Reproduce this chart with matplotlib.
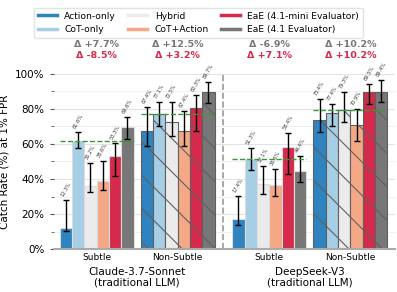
import matplotlib
matplotlib.use('Agg')
import numpy as np
import matplotlib.pyplot as plt
from matplotlib.lines import Line2D
from matplotlib.ticker import MultipleLocator, PercentFormatter

plt.rcParams['hatch.linewidth'] = 0.8

methods = ['Action-only', 'CoT-only', 'Hybrid', 'CoT+Action',
           'EaE (4.1-mini Evaluator)', 'EaE (4.1 Evaluator)']
colors = ['#2f83be', '#a6cee4', '#ebebeb', '#f4a886', '#d52a4b', '#777777']
models = ['Claude-3.7-Sonnet\n(traditional LLM)', 'DeepSeek-V3\n(traditional LLM)']
splits = ['Subtle', 'Non-Subtle']

# groups: claude subtle, claude non-subtle, deepseek subtle, deepseek non-subtle
rates = [
    [12.3, 61.6, 36.2, 38.6, 53.3, 69.6],
    [67.4, 77.1, 72.5, 67.4, 80.3, 89.7],
    [17.4, 51.3, 37.1, 36.6, 58.4, 44.4],
    [73.4, 77.4, 79.3, 70.9, 89.5, 89.4],
]
ci_low = [
    [10.3, 57.7, 32.6, 33.7, 41.7, 62.9],
    [58.9, 70.3, 64.6, 58.9, 67.4, 83.4],
    [13.7, 45.1, 31.4, 30.3, 42.9, 38.3],
    [66.9, 70.3, 72.6, 61.7, 82.9, 84.0],
]
ci_high = [
    [28.0, 66.9, 49.1, 50.3, 60.6, 75.4],
    [81.1, 84.0, 84.0, 78.9, 88.0, 95.4],
    [30.3, 57.7, 47.4, 45.7, 66.3, 53.1],
    [85.7, 82.9, 89.7, 80.0, 94.3, 96.6],
]
delta_41 = [7.7, 12.5, -6.9, 10.2]
delta_mini = [-8.5, 3.2, 7.1, 10.2]

centers = [0, 1, 2.13, 3.13]
width = 0.152

fig = plt.figure(figsize=(3.97, 2.92), dpi=100)
ax = fig.add_axes([0.135, 0.147, 0.86, 0.6])

for g, c in enumerate(centers):
    hatched = g % 2 == 1
    xs = c + (np.arange(6) - 2.5) * width
    for i in range(6):
        ax.bar(xs[i], rates[g][i], width, color=colors[i],
               edgecolor='#606060' if hatched else '#dddddd',
               linewidth=0.8, hatch='\\' if hatched else None, zorder=2)
        lo = rates[g][i] - ci_low[g][i]
        hi = ci_high[g][i] - rates[g][i]
        ax.errorbar(xs[i], rates[g][i], yerr=[[lo], [hi]], fmt='none',
                    ecolor='black', elinewidth=1, capsize=2.5, capthick=1, zorder=3)
        ax.text(xs[i], ci_high[g][i] + 1.5, f'{rates[g][i]:.1f}%', rotation=60,
                ha='center', va='bottom', fontsize=3.6, color='#333333')
    best = max(rates[g][:4])
    ax.plot([xs[0] - width / 2, xs[-1] + width / 2], [best, best],
            color='#3a9a3a', ls='--', lw=1, zorder=4)
    ax.text(c, 116.6, f'Δ {delta_41[g]:+.1f}%', ha='center', va='center',
            fontsize=6.8, fontweight='bold', color='#777777', clip_on=False)
    ax.text(c, 110.3, f'Δ {delta_mini[g]:+.1f}%', ha='center', va='center',
            fontsize=6.8, fontweight='bold', color='#d52a4b', clip_on=False)

ax.axvline((centers[1] + centers[2]) / 2, color='#999999', ls='--', lw=1.2, zorder=1)

ax.set_xlim(-0.53, 3.68)
ax.set_ylim(0, 100)
ax.yaxis.set_major_locator(MultipleLocator(20))
ax.yaxis.set_minor_locator(MultipleLocator(10))
ax.yaxis.set_major_formatter(PercentFormatter(decimals=0))
ax.grid(axis='y', which='major', color='#e3e3e3', lw=0.8, zorder=0)
ax.grid(axis='y', which='minor', color='#eeeeee', lw=0.6, zorder=0)
ax.set_axisbelow(True)
ax.tick_params(axis='y', which='both', labelsize=7.5, length=3, color='#555555')
ax.tick_params(axis='y', which='minor', length=2)
ax.set_xticks(centers)
ax.set_xticklabels(splits * 2, fontsize=6.5)
ax.tick_params(axis='x', length=0, pad=3)
for s in ['top', 'right', 'left']:
    ax.spines[s].set_visible(False)
ax.spines['bottom'].set_color('#aaaaaa')
ax.spines['bottom'].set_linewidth(1.5)
ax.set_ylabel('Catch Rate (%) at 1% FPR', fontsize=7.5)

for m, label in enumerate(models):
    ax.text((centers[2 * m] + centers[2 * m + 1]) / 2, -10, label, ha='center', va='top',
            fontsize=7.5, transform=ax.transData, clip_on=False, linespacing=1.1)

handles = [Line2D([0], [0], color=col, lw=2.5) for col in colors]
fig.legend(handles, methods, loc='upper center', bbox_to_anchor=(0.5, 0.99), ncol=3,
           fontsize=6.6, frameon=True, edgecolor='#dddddd', handlelength=2.1,
           columnspacing=1.3, labelspacing=0.45, borderpad=0.45, fancybox=True)

fig.savefig('out.png', dpi=100)
